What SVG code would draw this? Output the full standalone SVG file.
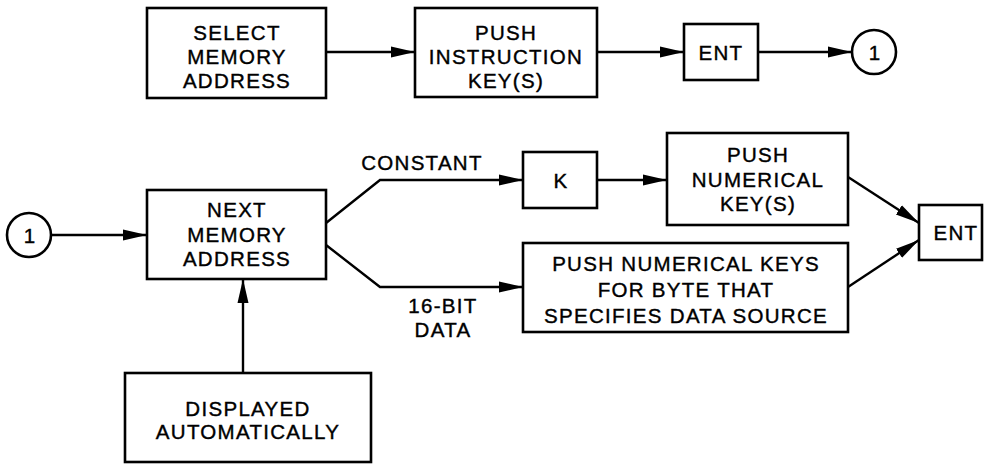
<svg xmlns="http://www.w3.org/2000/svg" width="984" height="464" viewBox="0 0 984 464">
<defs>
<marker id="arr" markerUnits="userSpaceOnUse" markerWidth="26" markerHeight="14" refX="24" refY="6" orient="auto">
<path d="M0,0.5 L24,6 L0,11.5 z" fill="#000"/>
</marker>
<style>
.box{fill:#fff;stroke:#000;stroke-width:2.6}
.t{font-family:"Liberation Sans",Arial,sans-serif;font-size:20.5px;letter-spacing:1.3px;text-anchor:middle;fill:#000;stroke:#000;stroke-width:0.4}
.c{fill:none;stroke:#000;stroke-width:2.4;marker-end:url(#arr)}
</style>
</defs>
<rect width="984" height="464" fill="#fff"/>
<g id="connectors">
<path class="c" d="M326,52 H415"/>
<path class="c" d="M597,52 H684"/>
<path class="c" d="M758,52 H852"/>
<path class="c" d="M52,235 H147"/>
<path class="c" d="M326,223 L380,180 H523"/>
<path class="c" d="M326,245 L380,287 H523"/>
<path class="c" d="M597,180 H667"/>
<path class="c" d="M848,177 L919,223"/>
<path class="c" d="M848,287 L919,240"/>
<path class="c" d="M243,373 V279"/>
<text class="t" x="422" y="170">CONSTANT</text>
<text class="t" x="443" y="313">16-BIT</text>
<text class="t" x="443" y="337">DATA</text>
</g>
<g id="select">
<rect class="box" x="147" y="8" width="179" height="90"/>
<text class="t" x="237" y="40">SELECT</text>
<text class="t" x="237" y="64">MEMORY</text>
<text class="t" x="237" y="88">ADDRESS</text>
</g>
<g id="pushinstr">
<rect class="box" x="415" y="8" width="182" height="89"/>
<text class="t" x="506" y="40">PUSH</text>
<text class="t" x="506" y="64">INSTRUCTION</text>
<text class="t" x="506" y="88">KEY(S)</text>
</g>
<g id="ent1">
<rect class="box" x="684" y="24" width="74" height="56"/>
<text class="t" x="721" y="60">ENT</text>
</g>
<g id="conn1top">
<circle class="box" cx="874" cy="52" r="22"/>
<text class="t" x="875" y="60">1</text>
</g>
<g id="conn1left">
<circle class="box" cx="29" cy="235" r="22"/>
<text class="t" x="30" y="243">1</text>
</g>
<g id="next">
<rect class="box" x="147" y="190" width="179" height="89"/>
<text class="t" x="237" y="217">NEXT</text>
<text class="t" x="237" y="242">MEMORY</text>
<text class="t" x="237" y="266">ADDRESS</text>
</g>
<g id="k">
<rect class="box" x="523" y="152" width="74" height="56"/>
<text class="t" x="561" y="188">K</text>
</g>
<g id="pushnum">
<rect class="box" x="667" y="133" width="181" height="92"/>
<text class="t" x="758" y="162">PUSH</text>
<text class="t" x="758" y="187">NUMERICAL</text>
<text class="t" x="758" y="211">KEY(S)</text>
</g>
<g id="pushkeys">
<rect class="box" x="523" y="243" width="325" height="89"/>
<text class="t" x="686" y="271">PUSH NUMERICAL KEYS</text>
<text class="t" x="686" y="297">FOR BYTE THAT</text>
<text class="t" x="686" y="323">SPECIFIES DATA SOURCE</text>
</g>
<g id="ent2">
<rect class="box" x="919" y="205" width="63" height="55"/>
<text class="t" x="956" y="240">ENT</text>
</g>
<g id="displayed">
<rect class="box" x="125" y="373" width="246" height="89"/>
<text class="t" x="248" y="416">DISPLAYED</text>
<text class="t" x="248" y="439">AUTOMATICALLY</text>
</g>
</svg>
